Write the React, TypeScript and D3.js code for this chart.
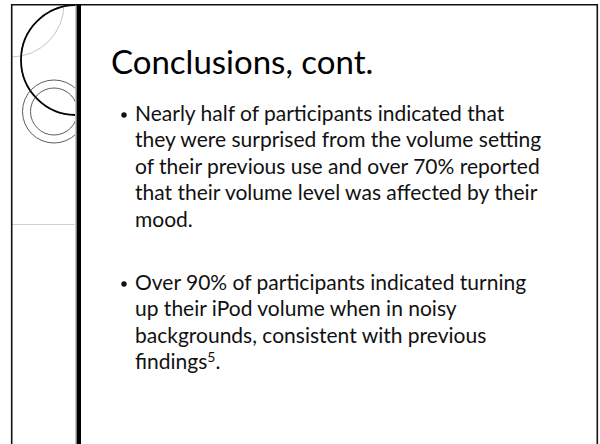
import React, { useEffect, useRef } from "react";
import * as d3 from "d3";

const WIDTH = 600;
const HEIGHT = 444;

const titleText = "Conclusions, cont.";
const bullet1Lines = [
  "Nearly half of participants indicated that",
  "they were surprised from the volume setting",
  "of their previous use and over 70% reported",
  "that their volume level was affected by their",
  "mood.",
];
const bullet2Lines = [
  "Over 90% of participants indicated turning",
  "up their iPod volume when in noisy",
  "backgrounds, consistent with previous",
  "findings",
];
const bullet2Sup = "5";
const bullet2Tail = ".";

const FONT = "Lato, 'Open Sans', sans-serif";

export default function App() {
  const ref = useRef<HTMLDivElement>(null);

  useEffect(() => {
    const root = d3.select(ref.current);
    root.selectAll("*").remove();

    const svg = root
      .append("svg")
      .attr("width", WIDTH)
      .attr("height", HEIGHT)
      .style("display", "block")
      .style("background", "#fff");

    // decorative side panel
    svg
      .append("clipPath")
      .attr("id", "panel")
      .append("rect")
      .attr("x", 12)
      .attr("y", 5)
      .attr("width", 63)
      .attr("height", HEIGHT);

    const deco = svg.append("g").attr("clip-path", "url(#panel)");
    deco
      .append("circle")
      .attr("cx", 11)
      .attr("cy", 4)
      .attr("r", 53)
      .attr("fill", "none")
      .attr("stroke", "#b8b8b8")
      .attr("stroke-width", 0.8);
    deco
      .append("circle")
      .attr("cx", 76)
      .attr("cy", 60)
      .attr("r", 55)
      .attr("fill", "none")
      .attr("stroke", "#000")
      .attr("stroke-width", 1.8);
    [31.5, 23.5].forEach((r) => {
      deco
        .append("circle")
        .attr("cx", 54)
        .attr("cy", 111.5)
        .attr("r", r)
        .attr("fill", "none")
        .attr("stroke", "#333")
        .attr("stroke-width", 0.8);
    });

    svg
      .append("line")
      .attr("x1", 12)
      .attr("x2", 75)
      .attr("y1", 224.5)
      .attr("y2", 224.5)
      .attr("stroke", "#d0d0d0")
      .attr("stroke-width", 1);
    svg
      .append("line")
      .attr("x1", 75.5)
      .attr("x2", 75.5)
      .attr("y1", 5)
      .attr("y2", HEIGHT)
      .attr("stroke", "#c8c8c8")
      .attr("stroke-width", 1);

    // frame
    svg
      .append("path")
      .attr("d", `M11.7,${HEIGHT} V4.7 H597.3 V${HEIGHT}`)
      .attr("fill", "none")
      .attr("stroke", "#111")
      .attr("stroke-width", 1.6);
    svg
      .append("rect")
      .attr("x", 76.5)
      .attr("y", 4)
      .attr("width", 4.5)
      .attr("height", HEIGHT)
      .attr("fill", "#000");

    // title
    svg
      .append("text")
      .attr("x", 111)
      .attr("y", 74)
      .attr("font-family", FONT)
      .attr("font-size", 33)
      .attr("fill", "#000")
      .text(titleText);

    const lineY = d3.scaleLinear().domain([0, 1]).range([0, 26.4]);

    const drawBullet = (lines: string[], top: number) => {
      const g = svg.append("g").attr("transform", `translate(0,${top})`);
      g.append("circle")
        .attr("cx", 124)
        .attr("cy", -6)
        .attr("r", 2.7)
        .attr("fill", "#111");
      const t = g
        .selectAll("text")
        .data(lines)
        .enter()
        .append("text")
        .attr("x", 135)
        .attr("y", (d, i) => lineY(i))
        .attr("font-family", FONT)
        .attr("font-size", 21)
        .attr("fill", "#111")
        .text((d) => d);
      return t;
    };

    drawBullet(bullet1Lines, 121);
    const t2 = drawBullet(bullet2Lines, 290);
    const last = d3.select(t2.nodes()[bullet2Lines.length - 1]);
    last
      .append("tspan")
      .attr("font-size", 14)
      .attr("dy", -7)
      .text(bullet2Sup);
    last.append("tspan").attr("dy", 7).text(bullet2Tail);
  }, []);

  return (
    <div
      ref={ref}
      style={{ position: "absolute", left: 0, top: 0 }}
    ></div>
  );
}
